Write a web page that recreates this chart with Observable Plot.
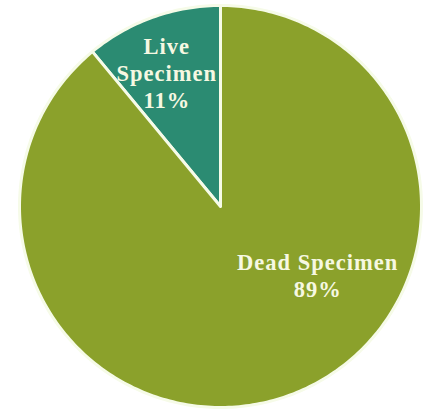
<!DOCTYPE html>
<html>
<head>
<meta charset="utf-8">
<script src="https://cdn.jsdelivr.net/npm/d3@7"></script>
<script src="https://cdn.jsdelivr.net/npm/@observablehq/plot@0.6"></script>
<style>
  html, body { margin: 0; padding: 0; background: #fff; }
  svg { display: block; }
  svg text { letter-spacing: 1px; }
</style>
</head>
<body>
<div id="chart"></div>
<script>
const categories = ["Live Specimen", "Dead Specimen"];
const values = [11, 89];
const colors = ["#2b8b72", "#8ba12b"];
const labelText = ["Live\nSpecimen\n11%", "Dead Specimen\n89%"];

// label placement (fraction of radius, angle in degrees clockwise from 12 o'clock)
const labelRadius = [0.72, 0.59];
const labelAngle = [-21.8, 125];

const total = d3.sum(values);
const startA = -values[0] / total * 2 * Math.PI;
const pie = d3.pie().sort(null).value(d => d.value)
  .startAngle(startA).endAngle(startA + 2 * Math.PI);
const rows = categories.map((c, i) => ({category: c, value: values[i], color: colors[i], label: labelText[i], i}));
const arcs = pie(rows);

function arcPolygon(a) {
  const pts = [[0, 0]];
  const n = Math.max(8, Math.ceil((a.endAngle - a.startAngle) / (Math.PI / 180)));
  for (let k = 0; k <= n; ++k) {
    const t = a.startAngle + (a.endAngle - a.startAngle) * k / n;
    pts.push([Math.sin(t), Math.cos(t)]);
  }
  pts.push([0, 0]);
  return {type: "Feature", properties: {category: a.data.category, color: a.data.color}, geometry: {type: "Polygon", coordinates: [pts]}};
}
const features = arcs.map(arcPolygon);

const circle = [];
for (let k = 0; k <= 360; ++k) { const t = k * Math.PI / 180; circle.push([Math.sin(t), Math.cos(t)]); }
const domain = {type: "Feature", geometry: {type: "Polygon", coordinates: [circle]}};

const labels = arcs.map(a => {
  const i = a.data.i;
  const ang = labelAngle[i] == null ? (a.startAngle + a.endAngle) / 2 : labelAngle[i] * Math.PI / 180;
  return {x: labelRadius[i] * Math.sin(ang), y: labelRadius[i] * Math.cos(ang), text: a.data.label};
});

const chart = Plot.plot({
  width: 428,
  height: 417,
  marginLeft: 19,
  marginRight: 7,
  marginTop: 5,
  marginBottom: 10,
  projection: {type: "reflect-y", domain},
  marks: [
    Plot.geo(features, {fill: d => d.properties.color, stroke: "#f6fbe8", strokeWidth: 3, strokeLinejoin: "round"}),
    Plot.text(labels, {
      x: "x", y: "y", text: "text",
      fill: "#f6f8e2",
      fontFamily: "Liberation Serif",
      fontWeight: "bold",
      fontSize: 22.5,
      lineHeight: 1.2
    })
  ]
});
document.getElementById("chart").appendChild(chart);
</script>
</body>
</html>
